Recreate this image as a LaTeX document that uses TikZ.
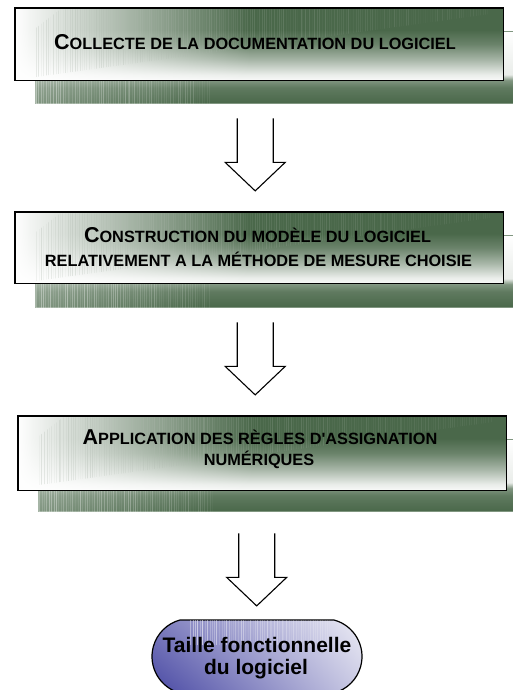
\documentclass[tikz,border=0pt]{standalone}
\usepackage{fontspec}
\setmainfont{Liberation Sans}[Ligatures=TeXOff]
\usetikzlibrary{calc,fadings,shadings,shapes.misc}

\definecolor{gdark}{RGB}{74,104,74}
\definecolor{gmid}{RGB}{128,150,128}
\definecolor{bdark}{RGB}{70,70,162}
\definecolor{blight}{RGB}{238,238,246}
\definecolor{stripegrey}{RGB}{176,186,176}

% green panel behind each step: dark band at the bottom, white above
\pgfdeclareverticalshading{panelback}{100bp}{color(0bp)=(gdark); color(25bp)=(gdark); color(36bp)=(gdark!88!white); color(41bp)=(gdark!70!white); color(45bp)=(white!88!gdark); color(75bp)=(white); color(100bp)=(white)}
% face of each step: green at the top, white at the bottom
\pgfdeclareverticalshading{panelface}{100bp}{color(0bp)=(white); color(25bp)=(white!96!gdark); color(29bp)=(white!88!gdark); color(39bp)=(gdark!48!white); color(50bp)=(gdark!82!white); color(60bp)=(gdark); color(100bp)=(gdark)}

% small-caps lettering made of two sizes of bold capitals
\newcommand\initcap[1]{{\fontsize{21.5pt}{24pt}\selectfont #1}}
\newcommand\smallcap[1]{{\fontsize{16.3pt}{19pt}\selectfont #1}}

% barcode-like texture of thin vertical lines, fading to the right
% #1 first x, #2 number of lines, #3/#4 y range, #5 style, #6 opacity scale
\newcommand\stripefield[6]{%
  \foreach \k in {0,...,#2}{%
    \pgfmathsetmacro\xs{#1+2.4*\k+0.8*rnd}%
    \pgfmathsetmacro\so{#6*(0.15+0.85*rnd)*(1-0.7*\k/#2)}%
    \draw[#5, opacity=\so] (\xs,#3) -- (\xs,#4);
  }}

\tikzset{
  backpanel/.style={shading=panelback, draw=gmid, line width=0.6pt,
    minimum width=485pt, minimum height=72pt, inner sep=0pt},
  frontpanel/.style={shading=panelface, minimum width=488pt, inner sep=0pt},
  panelborder/.style={draw=black, line width=1.3pt},
  facestripe/.style={draw=stripegrey, line width=0.45pt},
  bandstripe/.style={draw=white!85!gdark, line width=0.5pt},
  boxtext/.style={anchor=base, inner sep=0pt, font=\bfseries},
  arrowline/.style={draw=black, line width=1.1pt, line join=miter},
  pics/openarrow/.style={code={
    \draw[arrowline] (-18,0) -- (-18,-44) -- (-30,-44) -- (0,-72.5)
      -- (30,-44) -- (18,-44) -- (18,0);}},
  terminal/.style={rounded rectangle, rounded rectangle arc length=150,
    minimum width=210pt, minimum height=73pt, inner sep=0pt,
    draw=black, line width=1.2pt,
    upper left=bdark!72!white, lower left=bdark,
    upper right=blight, lower right=blight!80!bdark},
  sizetext/.style={anchor=base, inner sep=0pt, font=\bfseries\fontsize{21pt}{21pt}\selectfont}
}

% one step: back panel, textured face and frame
% #1 name prefix, #2/#3 top-left corner of the face, #4 face height
\newcommand\drawpanel[4]{%
  \node[backpanel, anchor=north west] (#1back) at (#2+20,#3-23) {};
  \fill[white, opacity=0.3, path fading=east]
    (#1back.south west) rectangle ($(#1back.north west)+(175,0)$);
  \begin{scope}
    \clip (#1back.south west) rectangle ($(#1back.north west)+(175,0)$);
    \stripefield{#2+21}{72}{#3-100}{#3-20}{bandstripe}{0.55}
  \end{scope}
  \node[frontpanel, minimum height=#4, anchor=north west] (#1front) at (#2,#3) {};
  \fill[white, path fading=east]
    (#1front.south west) rectangle ($(#1front.north west)+(235,0)$);
  \begin{scope}
    \clip (#2+21,#3-20) -- (#2+45,#3-1.5) -- (#2+475,#3-1.5) -- (#2+475,#3-6)
      -- (#2+21,#3-69) -- cycle;
    \stripefield{#2+21}{190}{#3-75}{#3}{facestripe}{0.35}
  \end{scope}
  \draw[panelborder] (#1front.south west) rectangle (#1front.north east);
}

\begin{document}
\begin{tikzpicture}[x=1pt,y=1pt]
\useasboundingbox (0,0) rectangle (513,690);
\pgfmathsetseed{11}

% step 1
\drawpanel{p1}{15}{682}{72pt}
\node[boxtext] (t1) at (255,640)
  {\initcap{C}\smallcap{OLLECTE DE LA DOCUMENTATION DU LOGICIEL}};

% step 2
\drawpanel{p2}{15}{478}{71pt}
\node[boxtext] (t2a) at (257.5,447)
  {\initcap{C}\smallcap{ONSTRUCTION DU MODÈLE DU LOGICIEL}};
\node[boxtext] (t2b) at (258.5,423)
  {\smallcap{RELATIVEMENT A LA MÉTHODE DE MESURE CHOISIE}};

% step 3
\drawpanel{p3}{18}{274}{74pt}
\node[boxtext] (t3a) at (260,245)
  {\initcap{A}\smallcap{PPLICATION DES RÈGLES D'ASSIGNATION}};
\node[boxtext] (t3b) at (259,224) {\smallcap{NUMÉRIQUES}};

% result
\node[terminal] (size) at (257,33.5) {};
\begin{scope}
  \clip (190,45) rectangle (330,69.4);
  \stripefield{190}{58}{40}{70}{draw=white, line width=0.6pt}{0.6}
\end{scope}
\node[sizetext] (t4a) at (257,37) {Taille fonctionnelle};
\node[sizetext] (t4b) at (256,16) {du logiciel};

% hollow arrows between the steps
\pic (a1) at ($(p1front.south)+(-4,-38)$) {openarrow};
\pic (a2) at ($(p2front.south)+(-4,-39)$) {openarrow};
\pic (a3) at ($(p3front.south)+(-5.5,-43)$) {openarrow};
\end{tikzpicture}
\end{document}
